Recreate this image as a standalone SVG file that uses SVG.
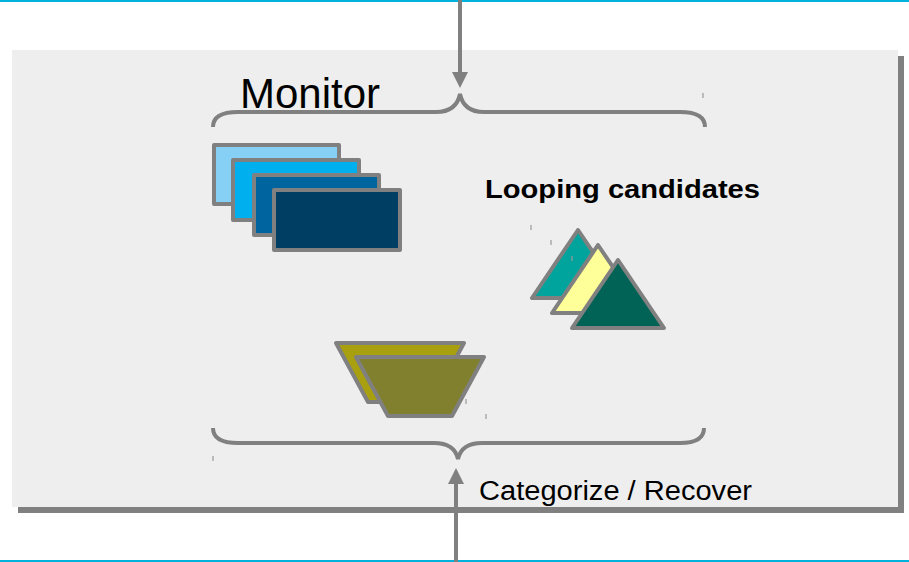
<svg xmlns="http://www.w3.org/2000/svg" width="909" height="562" viewBox="0 0 909 562">
<defs>
<style>
.ln{stroke:#808080;fill:none;stroke-width:4}
.sh{stroke:#808080;stroke-width:4;stroke-linejoin:round}
.tk{stroke:#999;stroke-width:1.2}
.cy{stroke:#00b2dc;stroke-width:2}
.t{font-family:"Liberation Sans",Arial,sans-serif;fill:#000}
</style>
</defs>
<rect width="909" height="562" fill="#fff"/>
<line class="cy" x1="0" y1="1" x2="909" y2="1"/>
<line class="cy" x1="0" y1="561" x2="909" y2="561"/>
<g id="panel">
<rect x="18" y="56" width="886" height="457" fill="#808080"/>
<rect x="12" y="50" width="886" height="457" fill="#eeeeee"/>
</g>
<g id="monitor-label"><text class="t" x="240" y="108" font-size="42" textLength="140" lengthAdjust="spacingAndGlyphs">Monitor</text></g>
<g id="looping-label"><text class="t" x="485" y="198" font-size="26" font-weight="bold" textLength="275" lengthAdjust="spacingAndGlyphs">Looping candidates</text></g>
<g id="categorize-label"><text class="t" x="479" y="500" font-size="27" textLength="273" lengthAdjust="spacingAndGlyphs">Categorize / Recover</text></g>
<g id="rects">
<rect class="sh" x="214" y="145" width="125" height="59" fill="#87d0f5"/>
<rect class="sh" x="233" y="160" width="126" height="60" fill="#00b0ee"/>
<rect class="sh" x="254" y="175" width="125" height="60" fill="#00649e"/>
<rect class="sh" x="274" y="190" width="126" height="60" fill="#003f63"/>
</g>
<g id="triangles">
<polygon class="sh" points="578,230 532,298 624,298" fill="#00a49c"/>
<polygon class="sh" points="598,245 552,313 644,313" fill="#ffff99"/>
<polygon class="sh" points="618,260 572,328 664,328" fill="#006355"/>
</g>
<g id="trapezoids">
<polygon class="sh" points="336,343 464,343 432,402 368,402" fill="#a8a00e"/>
<polygon class="sh" points="356,357 484,357 452,416 388,416" fill="#80802e"/>
</g>
<g id="connectors">
<path class="ln" d="M213,127 C213,117 222,112 238,112 L436,112 C452,112 458,104 460,94 C462,104 468,112 484,112 L680,112 C696,112 705,117 705,127"/>
<path class="ln" d="M213,428 C213,438 222,443 238,443 L434,443 C450,443 456,450 458,459 C460,450 466,443 482,443 L680,443 C696,443 704,438 704,428"/>
<line class="ln" x1="460" y1="0" x2="460" y2="76"/>
<polygon points="452,72 468,72 460,88" fill="#808080"/>
<line class="ln" x1="456" y1="562" x2="456" y2="482"/>
<polygon points="448,484 464,484 456,468" fill="#808080"/>
</g>
<g id="ticks">
<line class="tk" x1="703" y1="93" x2="703" y2="98"/>
<line class="tk" x1="531" y1="225" x2="531" y2="230"/>
<line class="tk" x1="551" y1="240" x2="551" y2="245"/>
<line class="tk" x1="572" y1="256" x2="572" y2="261"/>
<line class="tk" x1="466" y1="399" x2="466" y2="404"/>
<line class="tk" x1="486" y1="414" x2="486" y2="419"/>
<line class="tk" x1="213" y1="456" x2="213" y2="461"/>
</g>
</svg>
